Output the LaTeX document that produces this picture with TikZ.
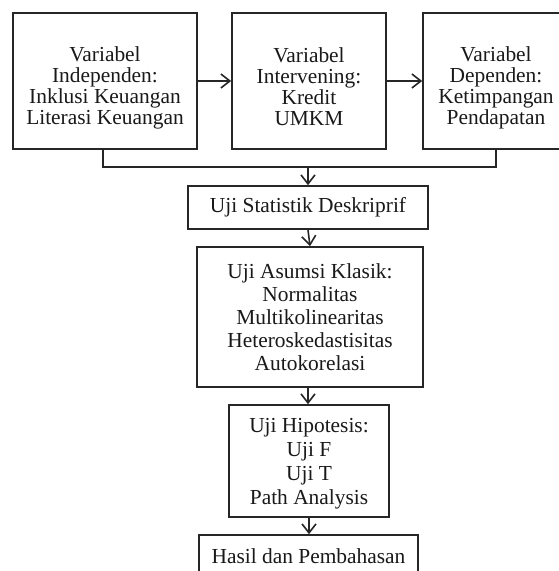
\documentclass[tikz,border=0pt]{standalone}
\usepackage{fontspec}
\setmainfont{Liberation Serif}
\usetikzlibrary{arrows.meta,positioning}
\begin{document}
\begin{tikzpicture}[x=1pt,y=-1pt,
  bx/.style={draw=black!85,line width=1.6pt,fill=white,inner sep=0pt,align=center,
    text=black!90,font=\fontsize{21.4}{21}\selectfont},
  txt/.style={inner sep=0pt,align=center,text=black!90,font=\fontsize{21.4}{21}\selectfont},
  arr/.style={draw=black!85,line width=1.6pt,-{Straight Barb[length=9pt,width=14pt,line width=1.6pt]}},
  ln/.style={draw=black!85,line width=1.6pt}]
\useasboundingbox (0,0) rectangle (559,571);
\clip (0,0) rectangle (559,571);
\fill[white] (0,0) rectangle (559,571);
\node[bx,minimum width=184,minimum height=136] (b1) at (105,81) {};
\node[txt] (t1) at ([yshift=-7pt]b1.center)
  {Variabel\\Independen:\\Inklusi Keuangan\\Literasi Keuangan};
\node[bx,minimum width=154,minimum height=136] (b2) at (309,81) {};
\node[txt] (t2) at ([yshift=-6pt]b2.center)
  {Variabel\\Intervening:\\Kredit\\UMKM};
\node[bx,minimum width=146,minimum height=136] (b3) at (496,81) {};
\node[txt] (t3) at ([yshift=-7pt]b3.center)
  {Variabel\\Dependen:\\Ketimpangan\\Pendapatan};
\node[bx,minimum width=240,minimum height=43] (s) at (308,207.5)
  {Uji Statistik Deskriprif};
\node[bx,minimum width=226,minimum height=140,font=\fontsize{21.4}{23}\selectfont] (a) at (310,317)
  {Uji Asumsi Klasik:\\Normalitas\\Multikolinearitas\\Heteroskedastisitas\\Autokorelasi};
\node[bx,minimum width=160,minimum height=112] (h) at (309,461) {};
\node[txt,font=\fontsize{21.4}{24}\selectfont] (th) at ([yshift=-3pt]h.center)
  {Uji Hipotesis:\\Uji F\\Uji T\\Path Analysis};
\node[bx,minimum width=219,minimum height=43] (r) at (308.5,556.5)
  {Hasil dan Pembahasan};
\draw[arr] (b1.east) -- (b2.west);
\draw[arr] (b2.east) -- (b3.west);
\draw[ln] ([xshift=-2pt]b1.south) -- ++(0,17) coordinate (m1) -| (b3.south);
\coordinate (m2) at (s.north |- m1);
\draw[arr] (m2) -- (s.north);
\draw[arr] (s.south) -- (a.north);
\draw[arr] ([xshift=-2pt]a.south) -- ([xshift=-2pt]a.south |- h.north);
\draw[arr] (h.south) -- (h.south |- r.north);
\end{tikzpicture}
\end{document}
